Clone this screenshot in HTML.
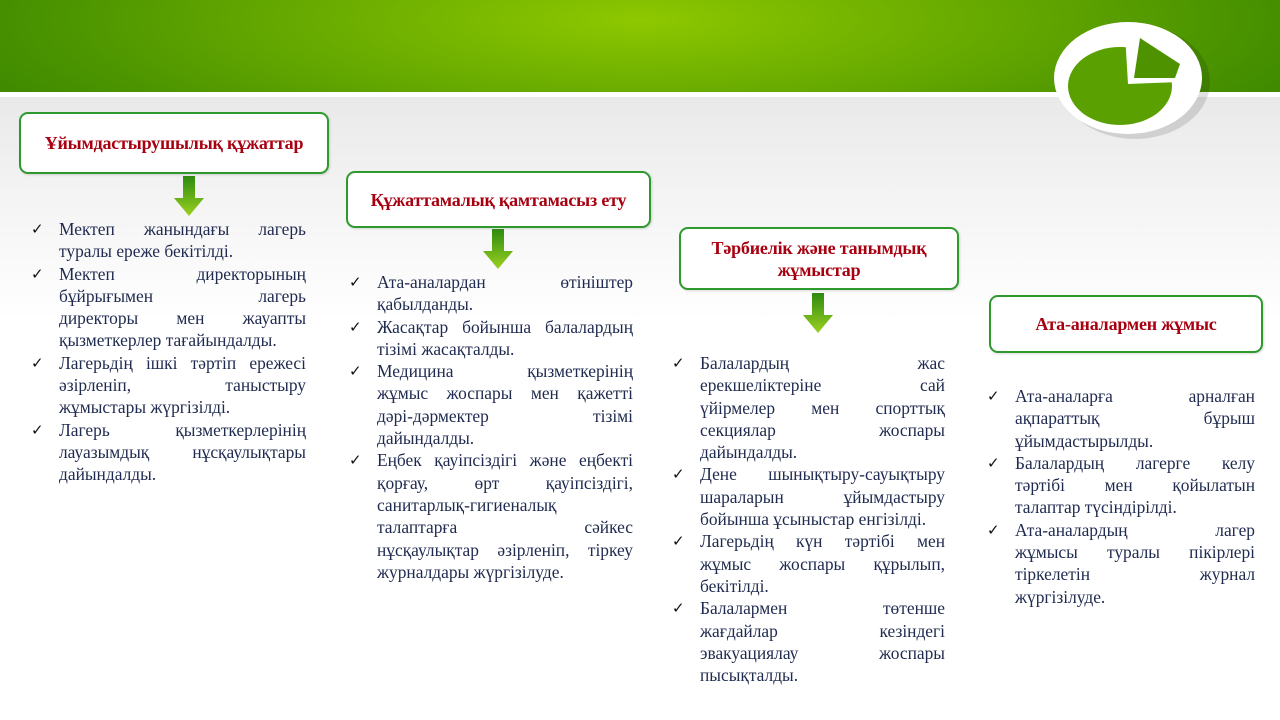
<!DOCTYPE html>
<html><head><meta charset="utf-8"><style>
*{margin:0;padding:0;box-sizing:border-box}
body{width:1280px;height:720px;position:relative;overflow:hidden;background:linear-gradient(#e9e9e9 95px,#f4f4f4 200px,#fff 320px,#fff);font-family:"Liberation Serif",serif}
.hdr{position:absolute;left:0;top:0;width:1280px;height:92px;background:radial-gradient(ellipse 700px 160px at 640px 20px,#8ec800 0%,#6aac00 45%,#3f8a00 100%)}
.ln{position:absolute;left:0;top:92px;width:1280px;height:5px;background:#fff}
.box{position:absolute;border:2px solid #2e9a2e;border-radius:9px;background:#fff;display:flex;align-items:center;justify-content:center;text-align:center;color:#a80010;font-weight:bold;font-size:18px;line-height:22px;letter-spacing:-0.2px;box-shadow:1px 1px 2px rgba(0,0,0,.15)}
.arr{position:absolute;width:30px;height:40px}
ul{position:absolute;list-style:none;color:#1f2a4f;font-size:17.4px;line-height:22.3px}
li{position:relative}
li span{display:block;text-align:justify;text-align-last:justify;height:22.3px;overflow:visible}
li span.l{text-align-last:left}
li:before{content:"✓";position:absolute;left:-28px;top:0;font-family:"DejaVu Sans",sans-serif;font-size:15px;color:#111}
</style></head><body>
<div class="hdr"></div><div class="ln"></div>
<svg style="position:absolute;left:0;top:0" width="1280" height="200">
<ellipse cx="1135" cy="82" rx="75" ry="57" fill="#000" opacity=".12"/>
<ellipse cx="1128" cy="78" rx="74" ry="56" fill="#fff"/>
<ellipse cx="1120" cy="86" rx="52" ry="39" fill="#5aa000"/>
<polygon points="1125,34 1182,60 1180,82 1128,84" fill="#fff"/>
<polygon points="1140,38 1180,64 1175,78 1134,78" fill="#4e9200"/>
</svg>
<div class="box" style="left:19px;top:112px;width:310px;height:62px">Ұйымдастырушылық құжаттар</div>
<div class="box" style="left:346px;top:171px;width:305px;height:57px">Құжаттамалық қамтамасыз ету</div>
<div class="box" style="left:679px;top:227px;width:280px;height:63px">Тәрбиелік және танымдық<br>жұмыстар</div>
<div class="box" style="left:989px;top:295px;width:274px;height:58px">Ата-аналармен жұмыс</div>
<svg class="arr" style="left:174px;top:176px" viewBox="0 0 30 40"><defs><linearGradient id="g" x1="0" y1="0" x2="0" y2="1"><stop offset="0" stop-color="#2e8a10"/><stop offset="1" stop-color="#9ad020"/></linearGradient></defs><polygon points="9,0 21,0 21,22 30,22 15,40 0,22 9,22" fill="url(#g)"/></svg>
<svg class="arr" style="left:483px;top:229px" viewBox="0 0 30 40"><polygon points="9,0 21,0 21,22 30,22 15,40 0,22 9,22" fill="url(#g)"/></svg>
<svg class="arr" style="left:803px;top:293px" viewBox="0 0 30 40"><polygon points="9,0 21,0 21,22 30,22 15,40 0,22 9,22" fill="url(#g)"/></svg>
<ul style="left:59px;top:218px;width:247px">
<li><span>Мектеп жанындағы лагерь</span><span class="l">туралы ереже бекітілді.</span></li>
<li><span>Мектеп директорының</span><span>бұйрығымен лагерь</span><span>директоры мен жауапты</span><span class="l">қызметкерлер тағайындалды.</span></li>
<li><span>Лагерьдің ішкі тәртіп ережесі</span><span>әзірленіп, таныстыру</span><span class="l">жұмыстары жүргізілді.</span></li>
<li><span>Лагерь қызметкерлерінің</span><span>лауазымдық нұсқаулықтары</span><span class="l">дайындалды.</span></li>
</ul>
<ul style="left:377px;top:271px;width:256px">
<li><span>Ата-аналардан өтініштер</span><span class="l">қабылданды.</span></li>
<li><span>Жасақтар бойынша балалардың</span><span class="l">тізімі жасақталды.</span></li>
<li><span>Медицина қызметкерінің</span><span>жұмыс жоспары мен қажетті</span><span>дәрі-дәрмектер тізімі</span><span class="l">дайындалды.</span></li>
<li><span>Еңбек қауіпсіздігі және еңбекті</span><span>қорғау, өрт қауіпсіздігі,</span><span class="l">санитарлық-гигиеналық</span><span>талаптарға сәйкес</span><span>нұсқаулықтар әзірленіп, тіркеу</span><span class="l">журналдары жүргізілуде.</span></li>
</ul>
<ul style="left:700px;top:352px;width:245px">
<li><span>Балалардың жас</span><span>ерекшеліктеріне сай</span><span>үйірмелер мен спорттық</span><span>секциялар жоспары</span><span class="l">дайындалды.</span></li>
<li><span>Дене шынықтыру-сауықтыру</span><span>шараларын ұйымдастыру</span><span class="l">бойынша ұсыныстар енгізілді.</span></li>
<li><span>Лагерьдің күн тәртібі мен</span><span>жұмыс жоспары құрылып,</span><span class="l">бекітілді.</span></li>
<li><span>Балалармен төтенше</span><span>жағдайлар кезіндегі</span><span>эвакуациялау жоспары</span><span class="l">пысықталды.</span></li>
</ul>
<ul style="left:1015px;top:385px;width:240px">
<li><span>Ата-аналарға арналған</span><span>ақпараттық бұрыш</span><span class="l">ұйымдастырылды.</span></li>
<li><span>Балалардың лагерге келу</span><span>тәртібі мен қойылатын</span><span class="l">талаптар түсіндірілді.</span></li>
<li><span>Ата-аналардың лагер</span><span>жұмысы туралы пікірлері</span><span>тіркелетін журнал</span><span class="l">жүргізілуде.</span></li>
</ul>
</body></html>
